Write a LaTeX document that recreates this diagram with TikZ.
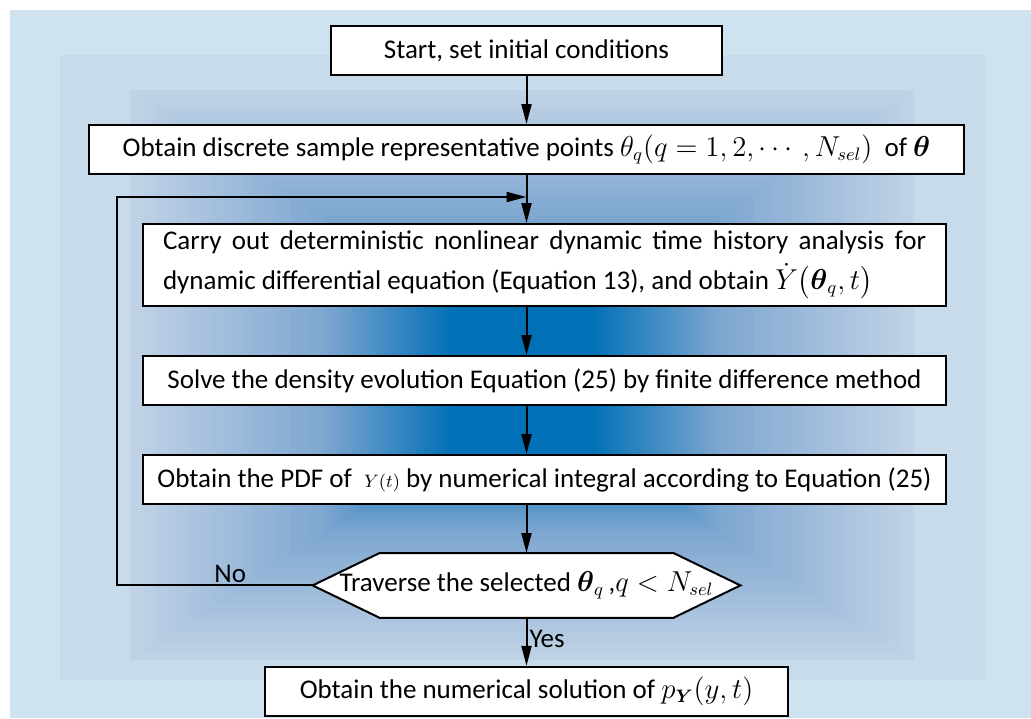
\documentclass[tikz,border=0pt]{standalone}
\usepackage{amsmath,amssymb}
\usepackage{fontspec}
\setmainfont{Carlito}
\usetikzlibrary{arrows.meta,positioning,backgrounds}
\definecolor{pale}{RGB}{206,226,239}
\definecolor{band}{RGB}{199,219,235}
\definecolor{haze}{RGB}{192,210,230}
\definecolor{mid}{RGB}{125,166,208}
\definecolor{deep}{RGB}{0,112,182}

\begin{document}
\begin{tikzpicture}[x=0.5pt,y=-0.5pt,
 node distance=24pt,
 box/.style={draw,fill=white,line width=1pt,align=center,font=\fontsize{13.5}{16}\selectfont,minimum height=24.5pt,inner sep=2pt},
 wide/.style={box,minimum width=401.5pt},
 flow/.style={-{Triangle[length=10pt,width=5pt]},line width=1pt},
 lab/.style={font=\fontsize{13.5}{16}\selectfont,inner sep=1pt}]
\useasboundingbox (0,0) rectangle (1031,718);
% backdrop: rectangular glow
\begin{scope}[on background layer]
\fill[pale] (10,10) rectangle (1031,718);
\fill[band] (60,55) rectangle (985,680);
\foreach \i in {0,...,30}{
 \pgfmathsetmacro{\hw}{392-6.4*\i}
 \pgfmathsetmacro{\hh}{285-4.2*\i}
 \pgfmathtruncatemacro{\p}{3.333*\i}
 \fill[mid!\p!haze] (522-\hw,375-\hh) rectangle (522+\hw,375+\hh);
}
\foreach \i in {1,...,30}{
 \pgfmathsetmacro{\hw}{200-4.267*\i}
 \pgfmathsetmacro{\hh}{159-2.8*\i}
 \pgfmathtruncatemacro{\p}{3.333*\i}
 \fill[deep!\p!mid] (522-\hw,375-\hh) rectangle (522+\hw,375+\hh);
}
\end{scope}
\node[box,minimum width=195.5pt] (start) at (526.5,50.5) {Start, set initial conditions};
\node[box,minimum width=437.5pt,below=of start] (points) {Obtain discrete sample representative points $\theta_q(q=1,2,\cdots,N_{sel})$\ \ of $\boldsymbol{\theta}$};
\node[wide,below=of points,xshift=9pt,minimum height=41pt,text width=381.5pt,inner xsep=10pt,align=justify,font=\fontsize{13.5}{20}\selectfont] (analysis) {Carry out deterministic nonlinear dynamic time history analysis for\linebreak dynamic differential equation (Equation 13), and obtain $\dot{Y}\bigl(\boldsymbol{\theta}_q,t\bigr)$};
\node[wide,below=of analysis] (solve) {Solve the density evolution Equation (25) by finite difference method};
\node[wide,below=of solve] (pdf) {Obtain the PDF of \ $\scriptstyle Y(t)$\ by numerical integral according to Equation (25)};
\node[lab,below=of pdf,xshift=-9pt,minimum width=213.5pt,minimum height=32pt,inner sep=0pt] (check) {Traverse the selected $\boldsymbol{\theta}_q$\,,$q<N_{sel}$};
\node[box,below=of check,minimum width=261.5pt] (result) {Obtain the numerical solution of $p_{\boldsymbol{Y}}(y,t)$};
\begin{scope}[on background layer]
\draw[fill=white,line width=1pt] (check.west) -- ([xshift=33.5pt]check.north west) -- ([xshift=-33.5pt]check.north east) -- (check.east) -- ([xshift=-33.5pt]check.south east) -- ([xshift=33.5pt]check.south west) -- cycle;
\end{scope}
\coordinate[below=11pt of points] (join);
\draw[flow] (start) -- (points);
\draw[flow] (points) -- (points.south |- analysis.north);
\draw[flow] (analysis.south -| start) -- (solve.north -| start);
\draw[flow] (solve.south -| start) -- (pdf.north -| start);
\draw[flow] (pdf.south -| start) -- (check);
\draw[flow] (check) -- node[lab,right,pos=0.45] {Yes} (result);
\draw[flow] (check.west) -- node[lab,above,pos=0.42] {No} ++(-196,0) |- (join);
\end{tikzpicture}
\end{document}
